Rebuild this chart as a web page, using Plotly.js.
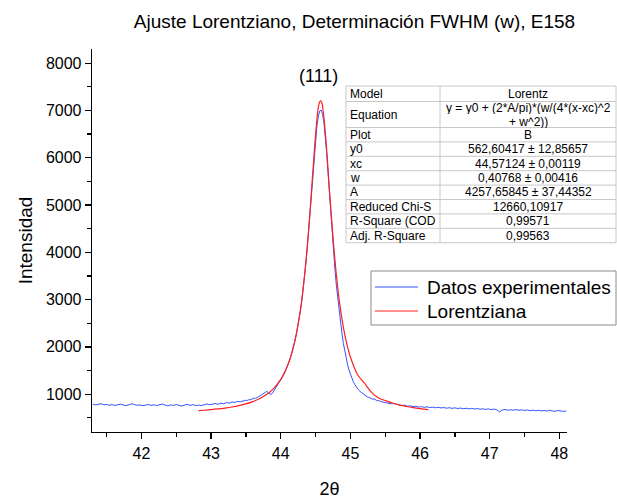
<!DOCTYPE html>
<html>
<head>
<meta charset="utf-8">
<script src="https://cdn.plot.ly/plotly-3.0.1.min.js"></script>
<style>html,body{margin:0;padding:0;background:#fff;}#chart{width:617px;height:499px;}</style>
</head>
<body>
<div id="chart"></div>
<script>
// ---------- data ----------
const expX = [
41.30,41.34,41.38,41.42,41.46,41.50,41.54,41.58,41.62,41.66,41.70,41.74,41.78,41.82,41.86,41.90,41.94,41.98,
42.02,42.06,42.10,42.14,42.18,42.22,42.26,42.30,42.34,42.38,42.42,42.46,42.50,42.54,42.58,42.62,42.66,42.70,
42.74,42.78,42.82,42.86,42.90,42.94,42.98,43.02,43.06,43.10,43.14,43.18,43.22,43.26,43.30,43.34,43.38,43.42,
43.46,43.50,
43.52,43.54,43.56,43.58,43.60,43.62,43.64,43.66,43.68,43.70,43.72,43.74,43.76,43.78,43.80,43.82,43.84,43.86,
43.88,43.90,43.92,43.94,43.96,43.98,44.00,44.02,44.04,44.06,44.08,44.10,44.12,44.14,44.16,44.18,44.20,44.22,
44.24,44.26,44.28,44.30,44.32,44.34,44.36,44.38,44.40,44.42,44.44,44.46,44.48,44.50,44.52,44.54,44.56,44.58,
44.60,44.62,44.64,44.66,44.68,44.70,44.72,44.74,44.76,44.78,44.80,44.82,44.84,44.86,44.88,44.90,44.92,44.94,
44.96,44.98,45.00,45.02,45.04,45.06,45.08,45.10,45.12,45.14,45.16,45.18,45.20,45.22,45.24,45.26,45.28,45.30,
45.32,45.34,45.36,45.38,45.40,45.42,45.44,45.46,45.48,45.50,
45.54,45.58,45.62,45.66,45.70,45.74,45.78,45.82,45.86,45.90,45.94,45.98,46.02,46.06,46.10,46.14,46.18,46.22,
46.26,46.30,46.34,46.38,46.42,46.46,46.50,46.54,46.58,46.62,46.66,46.70,46.74,46.78,46.82,46.86,46.90,46.94,
46.98,47.02,47.06,47.10,47.14,47.18,47.22,47.26,47.30,47.34,47.38,47.42,47.46,47.50,47.54,47.58,47.62,47.66,
47.70,47.74,47.78,47.82,47.86,47.90,47.94,47.98,48.02,48.06,48.10
];
const expY = [
790,772,785,798,776,781,766,779,762,774,788,770,759,776,796,781,764,772,
757,769,783,762,775,759,772,791,768,754,773,762,780,766,748,771,785,764,
779,757,770,758,778,792,776,789,802,786,810,798,822,809,834,826,848,839,
861,873,
866,884,879,896,903,918,912,936,948,962,981,1002,1030,1052,1060,1031,1004,994,
1021,1068,1097,1139,1186,1228,1284,1341,1398,1462,1531,1602,1690,1782,1879,1990,2110,2240,
2392,2560,2745,2950,3190,3450,3750,4080,4440,4820,5220,5630,6020,6390,6680,6880,6990,7010,
6920,6740,6460,6090,5660,5200,4760,4340,3960,3600,3280,2990,2730,2490,2270,2070,1900,1750,
1620,1510,1420,1340,1270,1210,1160,1118,1085,1058,1036,1012,975,960,946,935,918,905,
893,899,878,866,858,862,842,836,839,822,
815,797,806,782,771,759,768,746,752,738,744,729,736,721,733,718,726,712,
722,709,717,703,714,700,711,697,706,692,703,689,699,686,695,681,692,678,
688,674,685,671,625,664,676,661,671,662,674,658,669,655,666,651,663,648,
659,645,656,642,660,646,638,655,641,636,644
];
const fitX = [42.82,42.90,43.00,43.10,43.20,43.30,43.40,43.50,43.60,43.70,43.80,43.90,44.00,44.05,44.10,44.15,
44.20,44.25,44.30,44.35,44.40,44.42,44.45,44.48,44.50,44.53,44.55,44.57,44.59,44.61,44.63,44.65,44.66,44.68,
44.70,44.72,44.75,44.80,44.85,44.90,44.95,45.00,45.10,45.20,45.30,45.40,45.50,45.60,45.70,45.80,45.90,46.00,46.12];
const fitY = [651,660,672,687,706,729,758,795,843,907,996,1123,1314,1446,1611,1823,
2104,2480,2965,3630,4463,4850,5478,6101,6488,6957,7140,7210,7163,6979,6701,6348,6152,5736,
5297,4899,4321,3504,2878,2407,2055,1787,1422,1237,1045,924,867,813,772,740,715,695,675];

const seriesNames = ['Datos experimentales', 'Lorentziana'];
const seriesColors = ['#3352ff', '#ff1f1f'];
const tableLabels = ['Model','Equation','Plot','y0','xc','w','A','Reduced Chi-S','R-Square (COD','Adj. R-Square'];
const tableValues = ['Lorentz',['y = y0 + (2*A/pi)*(w/(4*(x-xc)^2', '+ w^2))'],'B','562,60417 ± 12,85657',
  '44,57124 ± 0,00119','0,40768 ± 0,00416','4257,65845 ± 37,44352','12660,10917','0,99571','0,99563'];
const xTickVals = [42,43,44,45,46,47,48];
const yTickVals = [1000,2000,3000,4000,5000,6000,7000,8000];

// ---------- layout helpers (pixel -> paper) ----------
const FW = 617, FH = 499, ML = 92, MR = 50, MT = 49, MB = 67;
const PW = FW - ML - MR, PH = FH - MT - MB;
const px = x => (x - ML) / PW;
const py = y => (FH - MB - y) / PH;

const FONT = 'Arial, "Liberation Sans", sans-serif';
const tblLeft = 346, tblMid = 440, tblRight = 616, tblTop = 86;
const rowH = [15.5, 26, 14.4, 14.4, 14.4, 14.4, 14.4, 14.4, 14.4, 14.4];
const gridColor = '#c8c8c8';
const TFS = 12;

const shapes = [];
const annotations = [];
const ann = (x, y, text, size, xanchor, extra) => annotations.push(Object.assign({xref:'paper', yref:'paper', x:px(x), y:py(y),
  xanchor:xanchor, yanchor:'middle', text:text, showarrow:false, font:{family:FONT, size:size, color:'#000'}}, extra || {}));

// ----- fit table -----
let yCur = tblTop;
const rowEdges = [yCur];
rowH.forEach(h => { yCur += h; rowEdges.push(yCur); });
shapes.push({type:'rect', xref:'paper', yref:'paper', x0:px(tblLeft), x1:px(tblRight), y0:py(tblTop), y1:py(yCur),
  fillcolor:'#ffffff', line:{color:gridColor, width:1}, layer:'above'});
rowEdges.slice(1, -1).forEach(e => shapes.push({type:'line', xref:'paper', yref:'paper',
  x0:px(tblLeft), x1:px(tblRight), y0:py(e), y1:py(e), line:{color:gridColor, width:1}, layer:'above'}));
shapes.push({type:'line', xref:'paper', yref:'paper', x0:px(tblMid), x1:px(tblMid), y0:py(tblTop), y1:py(yCur),
  line:{color:gridColor, width:1}, layer:'above'});
tableLabels.forEach((lab, i) => {
  const yc = (rowEdges[i] + rowEdges[i + 1]) / 2;
  ann(tblLeft + 2, yc, lab, TFS, 'left');
  const v = tableValues[i];
  const cx = (tblMid + tblRight) / 2;
  if (Array.isArray(v)) {
    v.forEach((line, k) => ann(cx, yc + (k - (v.length - 1) / 2) * 14, line, TFS, 'center',
      {height: 13, borderpad: 0, valign:'middle'}));
  } else {
    ann(cx, yc, v, TFS, 'center');
  }
});

// ----- legend (drawn box) -----
const legL = 371, legT = 271, legB = 325, legR = 616, legRowY = [287, 311];
shapes.push({type:'rect', xref:'paper', yref:'paper', x0:px(legL), x1:px(legR), y0:py(legT), y1:py(legB),
  fillcolor:'#ffffff', line:{color:'#8a8a8a', width:1}, layer:'above'});
seriesNames.forEach((nm, i) => {
  shapes.push({type:'line', xref:'paper', yref:'paper', x0:px(375), x1:px(418), y0:py(legRowY[i]), y1:py(legRowY[i]),
    line:{color:seriesColors[i], width:1}, layer:'above'});
  ann(425, legRowY[i], nm, 19, 'left');
});

// peak label
ann(318, 76, '(111)', 18, 'center');

const traces = [
  {x: expX, y: expY, type:'scatter', mode:'lines', name: seriesNames[0],
   line:{color:seriesColors[0], width:1}},
  {x: fitX, y: fitY, type:'scatter', mode:'lines', name: seriesNames[1],
   line:{color:seriesColors[1], width:1.2, shape:'spline'}}
];

const layout = {
  width: FW, height: FH,
  margin: {l: ML, r: MR, t: MT, b: MB, autoexpand:false},
  paper_bgcolor:'#fff', plot_bgcolor:'#fff',
  font: {family: FONT, color:'#000'},
  title: {text:'Ajuste Lorentziano, Determinación FWHM (w), E158', font:{family:FONT, size:19, color:'#000'},
    xref:'paper', x: px(354.5), xanchor:'center', yref:'container', y: 1 - 21/FH, yanchor:'middle'},
  xaxis: {range:[41.29, 48.11], tickvals:xTickVals, ticks:'outside', ticklen:6, tickwidth:1.3, tickcolor:'#000',
    showline:true, linecolor:'#000', linewidth:1.3, showgrid:false, zeroline:false,
    minor:{dtick:0.5, tick0:41.5, ticks:'outside', ticklen:4, tickwidth:1.3, tickcolor:'#000', showgrid:false},
    tickfont:{family:FONT, size:16, color:'#000'},
    title:{text:'2θ', font:{family:FONT, size:18, color:'#000'}, standoff:22}},
  yaxis: {range:[200, 8300], tickvals:yTickVals, ticks:'outside', ticklen:6, tickwidth:1.3, tickcolor:'#000',
    showline:true, linecolor:'#000', linewidth:1.3, showgrid:false, zeroline:false,
    minor:{dtick:500, tick0:500, ticks:'outside', ticklen:4, tickwidth:1.3, tickcolor:'#000', showgrid:false},
    tickfont:{family:FONT, size:16, color:'#000'},
    title:{text:'Intensidad', font:{family:FONT, size:19, color:'#000'}, standoff:8}},
  showlegend: false,
  shapes: shapes,
  annotations: annotations
};

Plotly.newPlot('chart', traces, layout, {displayModeBar:false, staticPlot:true});
</script>
</body>
</html>
